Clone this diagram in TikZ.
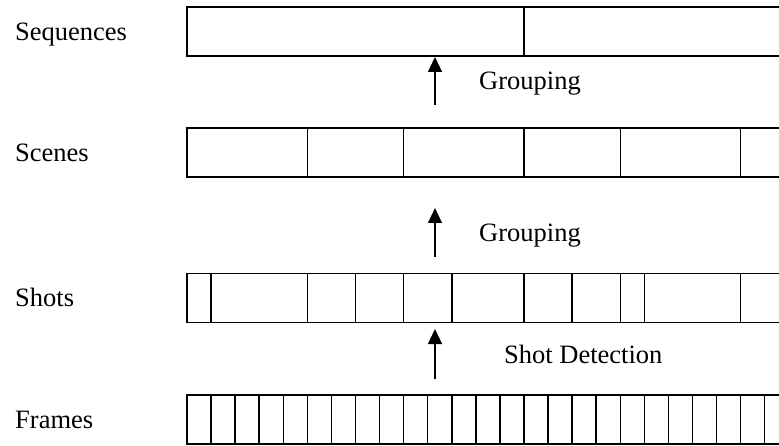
\documentclass[tikz,border=0pt]{standalone}
\usepackage{fontspec}
\setmainfont{Liberation Serif}
\usetikzlibrary{arrows.meta}
\begin{document}
\begin{tikzpicture}[x=1pt,y=-1pt,
  rowline/.style={line width=1.5pt, line join=miter},
  upar/.style={line width=1.1pt, -{Triangle[width=14pt,length=15pt]}},
  lbl/.style={font=\fontsize{26.5}{30}\selectfont, inner sep=0pt, anchor=base west}]
\useasboundingbox (0,0) rectangle (779,446);
\clip (0,0) rectangle (779,446);
\def\u{24.07}
\def\xl{187}
% row macro: top, bottom, divider indices
\newcommand{\myrow}[3]{%
  \draw[rowline] (790,#1) -- (\xl,#1) -- (\xl,#2) -- (790,#2);
  \foreach \i in {#3} \draw[rowline] ({\xl+\i*\u},#1) -- ({\xl+\i*\u},#2);}
% Sequences
\myrow{7}{56}{14}
% Scenes
\myrow{128}{177}{5,9,14,18,23}
% Shots
\myrow{273.5}{322.5}{1,5,7,9,11,14,16,18,19,23}
% Frames
\myrow{395}{444}{1,2,3,4,5,6,7,8,9,10,11,12,13,14,15,16,17,18,19,20,21,22,23,24}
% labels
\node[lbl] (lseq) at (15,40.5) {Sequences};
\node[lbl] (lsce) at (15,161.5) {Scenes};
\node[lbl] (lsho) at (15,307) {Shots};
\node[lbl] (lfra) at (15,428.5) {Frames};
% arrows
\coordinate (a1s) at (435,105); \coordinate (a1e) at (435,57);
\coordinate (a2s) at (435,257); \coordinate (a2e) at (435,208);
\coordinate (a3s) at (435,379); \coordinate (a3e) at (435,329);
\draw[upar] (a1s) -- (a1e);
\draw[upar] (a2s) -- (a2e);
\draw[upar] (a3s) -- (a3e);
\node[lbl] (g1) at (479,90) {Grouping};
\node[lbl] (g2) at (479,241.5) {Grouping};
\node[lbl] (sd) at (504,363) {Shot Detection};
\end{tikzpicture}
\end{document}
